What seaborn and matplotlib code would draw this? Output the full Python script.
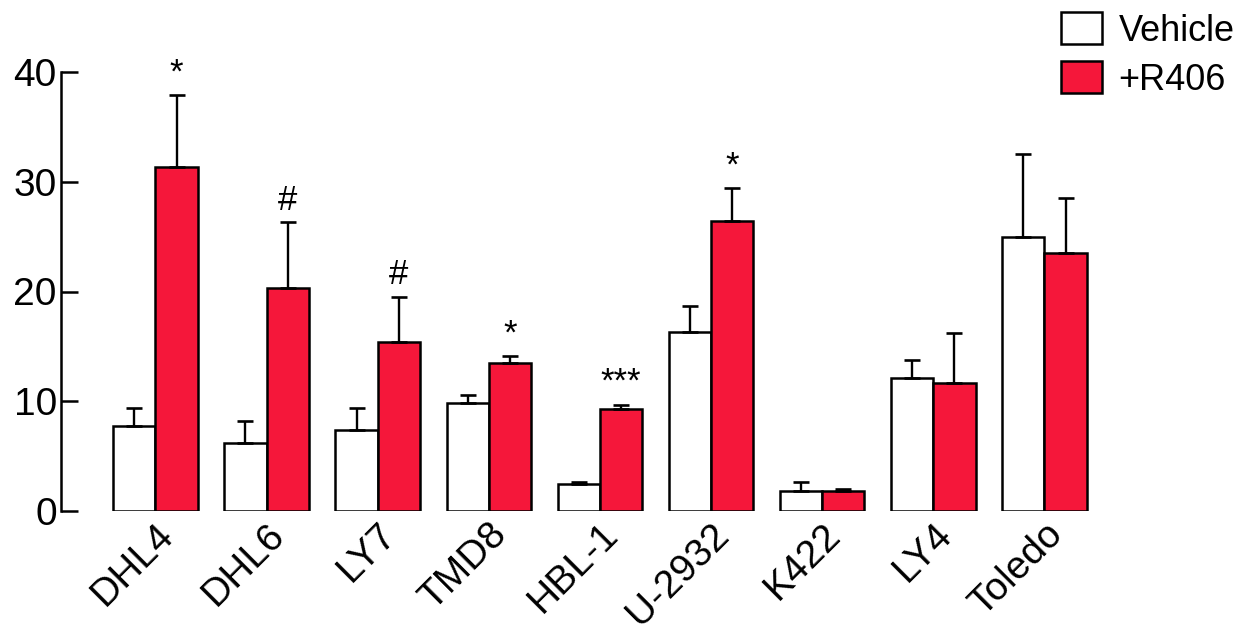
import pandas as pd
import numpy as np
import matplotlib.pyplot as plt
import seaborn as sns

# values
cells = ['DHL4', 'DHL6', 'LY7', 'TMD8', 'HBL-1', 'U-2932', 'K422', 'LY4', 'Toledo']
vehicle = [7.7, 6.2, 7.4, 9.8, 2.5, 16.3, 1.8, 12.1, 25.0]
vehicle_err = [1.7, 2.0, 2.0, 0.8, 0.1, 2.4, 0.8, 1.7, 7.5]
r406 = [31.3, 20.3, 15.4, 13.5, 9.3, 26.4, 1.8, 11.7, 23.5]
r406_err = [6.6, 6.0, 4.1, 0.6, 0.4, 3.0, 0.2, 4.5, 5.0]
signif = ['*', '#', '#', '*', '***', '*', '', '', '']
groups = ['Vehicle', '+R406']

df = pd.DataFrame({
    'cell': cells * 2,
    'value': vehicle + r406,
    'group': [groups[0]] * len(cells) + [groups[1]] * len(cells),
})

sns.set_style('white')
plt.rcParams['font.family'] = ['Liberation Sans', 'DejaVu Sans']
plt.rcParams.update({'text.color': 'black', 'xtick.color': 'black',
                     'ytick.color': 'black', 'axes.edgecolor': 'black'})

red = '#F5173A'
fig = plt.figure(figsize=(12.43, 6.38), dpi=100)
ax = fig.add_axes([61 / 1243, 127 / 638, 1039 / 1243, 439 / 638])

sns.barplot(data=df, x='cell', y='value', hue='group', palette=['white', red],
            saturation=1, width=0.76, gap=0, errorbar=None, edgecolor='black',
            linewidth=1.8, ax=ax, legend=True)

for cont, errs in zip(ax.containers, [vehicle_err, r406_err]):
    xs = [p.get_x() + p.get_width() / 2 for p in cont]
    hs = [p.get_height() for p in cont]
    ax.errorbar(xs, hs, yerr=[np.zeros(len(errs)), errs], fmt='none',
                ecolor='black', elinewidth=1.7, capsize=6, capthick=1.9,
                zorder=1, clip_on=False)

# significance marks above the treated bars
for p, e, s in zip(ax.containers[1], r406_err, signif):
    if s:
        ax.annotate(s, (p.get_x() + p.get_width() / 2, p.get_height() + e),
                    xytext=(0, 4), textcoords='offset points',
                    ha='center', va='bottom', fontsize=25, annotation_clip=False)

ax.set_xlim(-0.85, 8.5)
ax.set_ylim(0, 40)
ax.set_yticks([0, 10, 20, 30, 40])
ax.set_xlabel('')
ax.set_ylabel('')
sns.despine(ax=ax, bottom=True)
ax.spines['left'].set_linewidth(1.8)
ax.tick_params(axis='y', direction='in', length=12.5, width=1.8, labelsize=28, pad=3, left=True)
ax.tick_params(axis='x', length=0, labelsize=28, pad=4)
plt.setp(ax.get_xticklabels(), rotation=45, ha='right', rotation_mode='anchor')

handles, labels = ax.get_legend_handles_labels()
ax.legend(handles, labels, loc='upper right', bbox_to_anchor=(1.012, 1.018),
          bbox_transform=fig.transFigure, frameon=False, fontsize=26,
          handlelength=1.15, handleheight=1.0, handletextpad=0.45, labelspacing=0.35,
          borderaxespad=0.25)

fig.savefig('out.png', dpi=100)
